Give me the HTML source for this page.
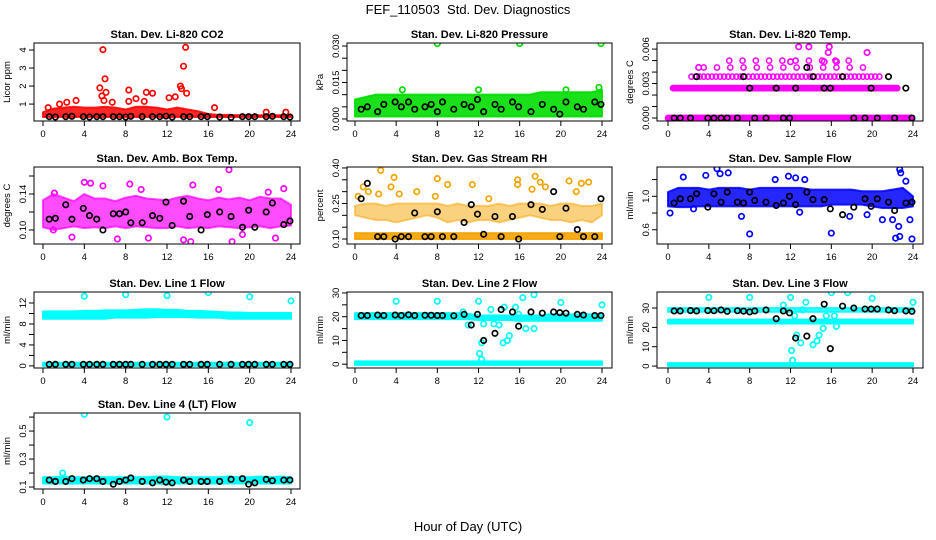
<!DOCTYPE html>
<html><head><meta charset="utf-8"><style>
body{margin:0;background:#fff;}
svg{display:block;font-family:"Liberation Sans",sans-serif;}
</style></head><body>
<svg id="chart" width="936" height="540" viewBox="0 0 936 540">
<text x="468" y="14" text-anchor="middle" font-size="13">FEF_110503&#160; Std. Dev. Diagnostics</text>
<text x="468" y="531" text-anchor="middle" font-size="13">Hour of Day (UTC)</text>
</svg>
<script>
const blackHours=[0.6,1.2,2.2,2.8,3.9,4.5,5.2,5.8,6.8,7.4,8.0,8.5,9.6,10.6,11.3,11.9,12.5,13.6,14.2,15.3,15.9,17.1,18.2,19.3,19.9,20.5,21.6,22.2,23.3,23.9];
const xTicks=[0,4,8,12,16,20,24];
const bandHours=[0,1,2,3,4,5,6,7,8,9,10,11,12,13,14,15,16,17,18,19,20,21,22,23,24];

// P1 CO2
const co2BandLo=[0.28,0.28,0.28,0.28,0.28,0.28,0.28,0.28,0.28,0.28,0.28,0.28,0.28,0.28,0.28,0.28,0.28,0.28,0.28,0.28,0.28,0.28,0.28,0.28,0.28];
const co2BandHi=[0.55,0.75,0.8,0.85,0.8,0.8,0.85,0.8,0.7,0.85,0.85,0.8,0.7,0.8,0.7,0.6,0.45,0.4,0.4,0.38,0.38,0.38,0.38,0.38,0.38];
const co2Out=[[5.8,4.02],[13.8,4.15],[13.6,3.1],[6,2.4],[5.5,1.9],[13.3,2],[13.4,1.85],[6.1,1.65],[5.7,1.45],[5.9,1.2],[8.3,1.78],[10,1.65],[10.6,1.6],[13.9,1.6],[12.2,1.35],[9,1.3],[3.2,1.2],[2.3,1.1],[1.6,1],[6.7,1.1],[16.6,0.8],[21.6,0.55],[23.5,0.55],[0.5,0.8],[8.3,1.15],[9.8,1.15],[12.8,1.4]];
const co2Black=[0.3,0.28,0.3,0.32,0.3,0.28,0.3,0.3,0.3,0.3,0.28,0.32,0.3,0.3,0.3,0.33,0.28,0.3,0.3,0.3,0.3,0.28,0.26,0.3,0.3,0.3,0.3,0.32,0.3,0.28];
// P2 pressure
const presBandLo=[0.001,0.001,0.001,0.001,0.001,0.001,0.001,0.001,0.001,0.001,0.001,0.001,0.001,0.001,0.001,0.001,0.001,0.001,0.001,0.001,0.001,0.001,0.001,0.001,0.001];
const presBandHi=[0.008,0.009,0.01,0.01,0.01,0.01,0.01,0.01,0.01,0.01,0.01,0.01,0.01,0.01,0.01,0.01,0.01,0.01,0.011,0.011,0.011,0.011,0.011,0.011,0.012];
const presOut=[[8,0.031],[16,0.031],[23.9,0.031],[23.7,0.013],[4.6,0.012],[12,0.012],[20.5,0.012]];
const presBlack=[0.004,0.005,0.003,0.006,0.007,0.005,0.007,0.004,0.005,0.006,0.003,0.007,0.004,0.006,0.005,0.008,0.003,0.006,0.004,0.007,0.005,0.003,0.006,0.004,0.002,0.007,0.005,0.004,0.007,0.006];
// P3 temp (discrete levels)
const tempLevels=[0,0.0026,0.0036,0.0044,0.005];
const tempStart=[0,0.5,2.3,3.5,6];
const tempEnd=[24,22.5,21,19.5,18];
const tempOut=[[12.8,0.0062],[13.8,0.0062],[15.8,0.0062],[15.7,0.0057],[19.5,0.0057],[3,0.0044],[12,0.0049],[16.5,0.0049],[15.3,0.0049]];
const tempBlack=[0,0,0,0.0036,0,0,0,0,0,0.0036,0.0026,0,0,0.0026,0,0,0.0026,0.0044,0.0036,0.0026,0.0026,0.0036,0,0,0.0026,0,0.0036,0,0.0026,0];
// P4 amb box temp
const ambBandLo=[0.103,0.1,0.102,0.104,0.102,0.103,0.102,0.104,0.102,0.104,0.103,0.102,0.102,0.104,0.102,0.103,0.102,0.104,0.103,0.102,0.103,0.104,0.102,0.104,0.105];
const ambBandHi=[0.133,0.14,0.136,0.132,0.14,0.135,0.135,0.132,0.136,0.138,0.135,0.134,0.133,0.136,0.138,0.135,0.133,0.136,0.134,0.136,0.133,0.137,0.135,0.135,0.128];
const ambOut=[[18,0.167],[4,0.153],[4.6,0.152],[8.4,0.151],[5.8,0.149],[17,0.145],[23.3,0.146],[2.8,0.092],[10.2,0.091],[13.6,0.089],[18.3,0.087],[7.2,0.09],[14.3,0.087],[9.5,0.145],[1.1,0.141],[14.5,0.15],[21.8,0.142],[22.5,0.091],[1,0.1],[19.3,0.095]];
const ambBlack=[0.112,0.113,0.128,0.112,0.124,0.116,0.112,0.1,0.118,0.118,0.12,0.108,0.108,0.116,0.113,0.131,0.105,0.132,0.115,0.1,0.117,0.12,0.115,0.103,0.122,0.103,0.12,0.13,0.106,0.11];
// P5 RH
const rhBandLo=[0.1,0.1,0.1,0.1,0.1,0.1,0.1,0.1,0.1,0.1,0.1,0.1,0.1,0.1,0.1,0.1,0.1,0.1,0.1,0.1,0.1,0.1,0.1,0.1,0.1];
const rhBandHi=[0.125,0.125,0.125,0.125,0.125,0.125,0.125,0.125,0.125,0.125,0.125,0.125,0.125,0.125,0.125,0.125,0.125,0.125,0.125,0.125,0.125,0.125,0.125,0.125,0.125];
const rhUpLo=[0.2,0.19,0.18,0.18,0.17,0.18,0.19,0.2,0.19,0.17,0.18,0.17,0.18,0.18,0.17,0.18,0.19,0.2,0.19,0.18,0.18,0.17,0.18,0.17,0.2];
const rhUpHi=[0.24,0.25,0.25,0.24,0.25,0.25,0.25,0.25,0.25,0.24,0.25,0.24,0.24,0.24,0.25,0.24,0.25,0.25,0.25,0.24,0.25,0.25,0.24,0.24,0.25];
const rhOut=[[2.5,0.39],[3.8,0.36],[17.5,0.365],[15.8,0.35],[0.8,0.32],[1.3,0.3],[3.5,0.32],[8,0.355],[9,0.33],[11.4,0.33],[22.7,0.34],[20.8,0.345],[6,0.3],[2.3,0.29],[17.2,0.31],[18.5,0.32],[22,0.335],[21.5,0.3],[0.3,0.28],[13,0.27],[7.8,0.28],[18,0.34],[15.8,0.33],[4.3,0.29]];
const rhBlack=[0.27,0.335,0.11,0.11,0.1,0.11,0.11,0.21,0.11,0.11,0.215,0.11,0.11,0.17,0.245,0.205,0.12,0.195,0.11,0.195,0.1,0.245,0.225,0.3,0.11,0.23,0.14,0.11,0.11,0.27];
// P6 sample flow
const sfBandLo=[0.88,0.87,0.87,0.88,0.88,0.88,0.88,0.88,0.88,0.88,0.88,0.88,0.88,0.88,0.88,0.88,0.9,0.9,0.9,0.9,0.88,0.86,0.86,0.86,0.88];
const sfBandHi=[1.05,1.1,1.1,1.1,1.08,1.1,1.1,1.1,1.08,1.1,1.1,1.1,1.1,1.1,1.08,1.08,1.08,1.08,1.08,1.06,1.06,1.06,1.08,1.1,1.0];
const sfOut=[[4.8,1.33],[5.1,1.27],[5.9,1.28],[3.7,1.25],[1.5,1.23],[12.5,1.22],[13.4,1.2],[11.8,1.24],[22.7,1.32],[22.8,1.28],[23.3,1.18],[0.2,0.8],[2.5,0.85],[7.2,0.76],[8,0.55],[16,0.56],[17.8,0.76],[21,0.72],[22,0.72],[22.3,0.5],[22.7,0.52],[23.9,0.49],[23.7,0.72],[22.6,0.64],[19.5,0.78],[12.9,0.81],[10.5,1.2]];
const sfBlack=[0.92,0.97,0.97,1.03,0.87,1.03,0.93,1.05,0.93,0.92,1.05,0.95,0.93,0.89,0.92,1.0,0.9,1.05,0.96,0.96,0.85,0.78,0.87,0.97,0.88,0.97,0.93,0.83,0.92,0.93];
// P7 line 1
const l1BandLo=[9.0,9.0,9.0,9.0,9.0,9.0,9.0,9.2,9.2,9.2,9.2,9.3,9.3,9.3,9.3,9.2,9.2,9.2,9.0,9.0,9.0,9.0,9.0,9.0,9.0];
const l1BandHi=[10.4,10.4,10.4,10.4,10.5,10.5,10.6,10.6,10.6,10.7,10.8,10.8,10.7,10.7,10.5,10.5,10.4,10.3,10.2,10.2,10.1,10.1,10.1,10.1,10.1];
const l1RowLo=[0,0,0,0,0,0,0,0,0,0,0,0,0,0,0,0,0,0,0,0,0,0,0,0,0];
const l1RowHi=[0.6,0.6,0.6,0.6,0.6,0.6,0.6,0.6,0.6,0.6,0.6,0.6,0.6,0.6,0.6,0.6,0.6,0.6,0.6,0.6,0.6,0.6,0.6,0.6,0.6];
const l1Out=[[4,13.3],[8,13.6],[12,13.4],[16,14],[20,13.2],[24,12.4]];
const l1Black=[0.3,0.3,0.3,0.3,0.3,0.3,0.3,0.3,0.3,0.3,0.3,0.3,0.3,0.3,0.3,0.3,0.3,0.3,0.3,0.3,0.3,0.3,0.3,0.3,0.3,0.3,0.3,0.3,0.3,0.3];
// P8 line 2
const l2BandLo=[19,19,19,19,19,19,19,19,19,19,19,19,18.6,18.6,18.6,18.6,18.3,18.3,18.3,18.3,18.3,18.3,18.3,18.3,18.3];
const l2BandHi=[21.5,21.5,21.5,21.5,21.5,21.5,21.5,21.5,21.5,21.5,21.5,21.2,20.5,20.5,20.5,20.5,20.5,20.5,20.5,21,21,21,21,21,21];
const l2RowLo=[-0.3,-0.3,-0.3,-0.3,-0.3,-0.3,-0.3,-0.3,-0.3,-0.3,-0.3,-0.3,-0.3,-0.3,-0.3,-0.3,-0.3,-0.3,-0.3,-0.3,-0.3,-0.3,-0.3,-0.3,-0.3];
const l2RowHi=[1.2,1.2,1.2,1.2,1.2,1.2,1.2,1.2,1.2,1.2,1.2,1.2,1.2,1.2,1.2,1.2,1.2,1.2,1.2,1.2,1.2,1.2,1.2,1.2,1.2];
const l2Out=[[4,26.5],[8,26.5],[12,26.5],[16.3,28],[17.4,29.3],[20,26],[24,25],[12.1,4.5],[12.3,2],[12.3,9],[13.5,17],[14,16.5],[14.4,9],[14.8,10],[15,12],[14.5,24],[15.6,24],[16.6,15],[17.4,15],[11,16.5],[13.2,23],[12.5,17],[10.5,22],[15.9,21]];
const l2Black=[20.5,20.5,20.7,20.5,20.7,20.5,20.8,20.5,20.6,20.6,20.5,20.5,20.4,21,16.5,21,10,13,23,22,16,22,21.5,22,21.7,21.5,21,20.7,20.5,20.5];
// P9 line 3
const l3BandLo=[22,22,22,22,22,22,22,22,22,22,22,22,22,22,22,22,22,22,22,22,22,22,22,22,22];
const l3BandHi=[24,24,24,24,24,24,24,24,24,24,24,24,24,24,24,24,24,24,24,24,24,24,24,24,24];
const l3UpLo=[28,28,28,28,28,28,28,28,28,28,28,28,28,28,28,28,28,28,28,28,28,28,28,28,28];
const l3UpHi=[30,30,30,30,30,30,30,30,30,30,30,30,30,30,30,30,30,30,30,30,30,30,30,30,30];
const l3RowLo=[0,0,0,0,0,0,0,0,0,0,0,0,0,0,0,0,0,0,0,0,0,0,0,0,0];
const l3RowHi=[1.5,1.5,1.5,1.5,1.5,1.5,1.5,1.5,1.5,1.5,1.5,1.5,1.5,1.5,1.5,1.5,1.5,1.5,1.5,1.5,1.5,1.5,1.5,1.5,1.5];
const l3Out=[[4,35.5],[8,35.5],[12,35.5],[16,38],[17.6,38],[20,35],[24,33],[12.1,8],[12.2,3],[12.6,16],[13,12],[13.5,33],[14.2,11],[14.6,13],[14.8,16],[15.2,19.5],[15.5,26],[16.5,20.5],[11.3,31.5],[13.2,29],[16.3,26],[12.4,26]];
const l3Black=[28.5,28.5,28.7,28.5,28.7,28.6,29,28.3,28.6,28.4,28,28.5,29,24.5,28.5,27.5,14.5,15.5,24.5,32,9,31,30,29.5,29.5,29.5,29,28.6,28.5,28.3];
// P10 line 4
const l4BandLo=[0.125,0.125,0.125,0.125,0.125,0.125,0.125,0.125,0.125,0.125,0.125,0.125,0.12,0.125,0.125,0.125,0.125,0.125,0.125,0.125,0.125,0.125,0.125,0.125,0.125];
const l4BandHi=[0.17,0.17,0.175,0.17,0.17,0.17,0.17,0.17,0.17,0.17,0.17,0.175,0.175,0.17,0.17,0.17,0.17,0.17,0.175,0.17,0.17,0.175,0.17,0.175,0.17];
const l4Out=[[4,0.62],[12,0.6],[20,0.56],[1.9,0.2]];
const l4Black=[0.15,0.14,0.14,0.16,0.15,0.16,0.16,0.14,0.12,0.14,0.15,0.165,0.14,0.13,0.15,0.135,0.13,0.15,0.14,0.14,0.14,0.14,0.155,0.16,0.12,0.13,0.155,0.145,0.15,0.15];

const NS='http://www.w3.org/2000/svg';
const svg=document.getElementById('chart');
function mk(tag,attrs,parent){const e=document.createElementNS(NS,tag);for(const k in attrs)e.setAttribute(k,attrs[k]);(parent||svg).appendChild(e);return e;}

const colL=[34,347,657],colR=[300,612,923],colX0=[43,355,668],colX24=[291,602,913];
const rowT=[43,167,292,413],rowB=[121,244,368,489];

const panels=[
 {name:'co2',title:'Stan. Dev. Li-820 CO2',ylab:'Licor ppm',r:0,c:0,dom:[0.06,4.39],ticks:[1,2,3,4],labels:['1','2','3','4'],color:'#ff0000',bands:[[co2BandLo,co2BandHi,0.85]],out:co2Out,black:co2Black},
 {name:'pressure',title:'Stan. Dev. Li-820 Pressure',ylab:'kPa',r:0,c:1,dom:[-0.00083,0.03125],ticks:[0,0.005,0.01,0.015,0.02,0.025,0.03],labels:['0.000','','','0.015','','','0.030'],color:'#00dd00',bands:[[presBandLo,presBandHi,0.9]],out:presOut,black:presBlack},
 {name:'li820-temp',title:'Stan. Dev. Li-820 Temp.',ylab:'degrees C',r:0,c:2,dom:[-0.00026,0.00653],ticks:[0,0.001,0.002,0.003,0.004,0.005,0.006],labels:['0.000','','','0.003','','','0.006'],color:'#ff00ff',bands:[],levels:true,out:tempOut,black:tempBlack},
 {name:'amb-box-temp',title:'Stan. Dev. Amb. Box Temp.',ylab:'degrees C',r:1,c:0,dom:[0.0844,0.17],ticks:[0.1,0.12,0.14,0.16],labels:['0.10','','0.14',''],color:'#ff00ff',bands:[[ambBandLo,ambBandHi,0.7]],out:ambOut,black:ambBlack},
 {name:'gas-rh',title:'Stan. Dev. Gas Stream RH',ylab:'percent',r:1,c:1,dom:[0.079,0.404],ticks:[0.1,0.15,0.2,0.25,0.3,0.35,0.4],labels:['0.10','','','0.25','','','0.40'],color:'#f5a300',bands:[[rhBandLo,rhBandHi,0.9],[rhUpLo,rhUpHi,0.5]],out:rhOut,black:rhBlack},
 {name:'sample-flow',title:'Stan. Dev. Sample Flow',ylab:'ml/min',r:1,c:2,dom:[0.43,1.35],ticks:[0.6,0.8,1.0,1.2],labels:['0.6','','1.0',''],color:'#0000ff',bands:[[sfBandLo,sfBandHi,0.85]],out:sfOut,black:sfBlack},
 {name:'line1-flow',title:'Stan. Dev. Line 1 Flow',ylab:'ml/min',r:2,c:0,dom:[-0.4,14.1],ticks:[0,2,4,6,8,10,12],labels:['0','','4','','8','','12'],color:'#00ffff',bands:[[l1BandLo,l1BandHi,1],[l1RowLo,l1RowHi,1]],out:l1Out,black:l1Black},
 {name:'line2-flow',title:'Stan. Dev. Line 2 Flow',ylab:'ml/min',r:2,c:1,dom:[-1.6,30.4],ticks:[0,5,10,15,20,25,30],labels:['0','','10','','20','','30'],color:'#00ffff',bands:[[l2BandLo,l2BandHi,1],[l2RowLo,l2RowHi,1]],out:l2Out,black:l2Black},
 {name:'line3-flow',title:'Stan. Dev. Line 3 Flow',ylab:'ml/min',r:2,c:2,dom:[-1,38.3],ticks:[0,10,20,30],labels:['0','10','20','30'],color:'#00ffff',bands:[[l3BandLo,l3BandHi,1],[l3UpLo,l3UpHi,0.8],[l3RowLo,l3RowHi,1]],out:l3Out,black:l3Black},
 {name:'line4-flow',title:'Stan. Dev. Line 4 (LT) Flow',ylab:'ml/min',r:3,c:0,dom:[0.086,0.629],ticks:[0.1,0.2,0.3,0.4,0.5,0.6],labels:['0.1','','0.3','','0.5',''],color:'#00ffff',bands:[[l4BandLo,l4BandHi,1]],out:l4Out,black:l4Black}
];

panels.forEach(p=>{
 const L=colL[p.c],R=colR[p.c],T=rowT[p.r],B=rowB[p.r];
 const x=h=>colX0[p.c]+(colX24[p.c]-colX0[p.c])*h/24;
 const y=v=>B-(v-p.dom[0])/(p.dom[1]-p.dom[0])*(B-T);
 const g=mk('g',{});
 
 
 const clipId='clip-'+p.name;
 const cp=mk('clipPath',{id:clipId},g);mk('rect',{x:L,y:T,width:R-L,height:B-T},cp);
 const plot=mk('g',{'clip-path':'url(#'+clipId+')'},g);
 p.bands.forEach((b,i)=>{
  let pts=bandHours.map((h,k)=>x(h)+','+y(b[1][k]));
  pts=pts.concat(bandHours.slice().reverse().map((h,k)=>x(h)+','+y(b[0][bandHours.length-1-k])));
  const poly=mk('polygon',{points:pts.join(' '),fill:p.color,'fill-opacity':b[2],stroke:p.color,'stroke-width':2,'stroke-opacity':b[2],'stroke-linejoin':'round'},plot);
  
  
 });
 if(p.levels){
  tempLevels.forEach((lv,i)=>{
   const step=i<2?0.12:(i==2?0.4:1.3);
   for(let h=tempStart[i];h<=tempEnd[i];h+=step){
    const c=mk('circle',{cx:x(h),cy:y(lv),r:2.6,fill:'none',stroke:p.color,'stroke-width':1.5},plot);
    
    
   }
  });
 }
 p.out.forEach(o=>{
  const c=mk('circle',{cx:x(o[0]),cy:y(o[1]),r:2.7,fill:'none',stroke:p.color,'stroke-width':1.7},plot);
  
  
 });
 p.black.forEach((v,i)=>{
  const c=mk('circle',{cx:x(blackHours[i]),cy:y(v),r:2.7,fill:'none',stroke:'#000','stroke-width':1.7},plot);
  
  
 });
 const box=mk('rect',{x:L,y:T,width:R-L,height:B-T,fill:'none',stroke:'#000','stroke-width':1},g);
 
 
 xTicks.forEach(t=>{
  mk('line',{x1:x(t),x2:x(t),y1:B,y2:B+5,stroke:'#000'},g);
  const tx=mk('text',{x:x(t),y:B+16,'text-anchor':'middle','font-size':9.5},g);
  tx.textContent=t;
  
  
 });
 p.ticks.forEach((t,i)=>{
  mk('line',{x1:L,x2:L-5,y1:y(t),y2:y(t),stroke:'#000'},g);
  if(p.labels[i]){
   const tx=mk('text',{x:L-8,y:y(t),'text-anchor':'middle','font-size':9.5,transform:'rotate(-90 '+(L-8)+' '+y(t)+')'},g);
   tx.textContent=p.labels[i];
   
   
  }
 });
 const yl=mk('text',{x:L-24,y:(T+B)/2,'text-anchor':'middle','font-size':9.5,transform:'rotate(-90 '+(L-24)+' '+((T+B)/2)+')'},g);
 yl.textContent=p.ylab;
 
 
 const ti=mk('text',{x:(L+R)/2,y:T-5,'text-anchor':'middle','font-size':11,'font-weight':'bold'},g);
 ti.textContent=p.title;
 
 
});
</script>
</body></html>
